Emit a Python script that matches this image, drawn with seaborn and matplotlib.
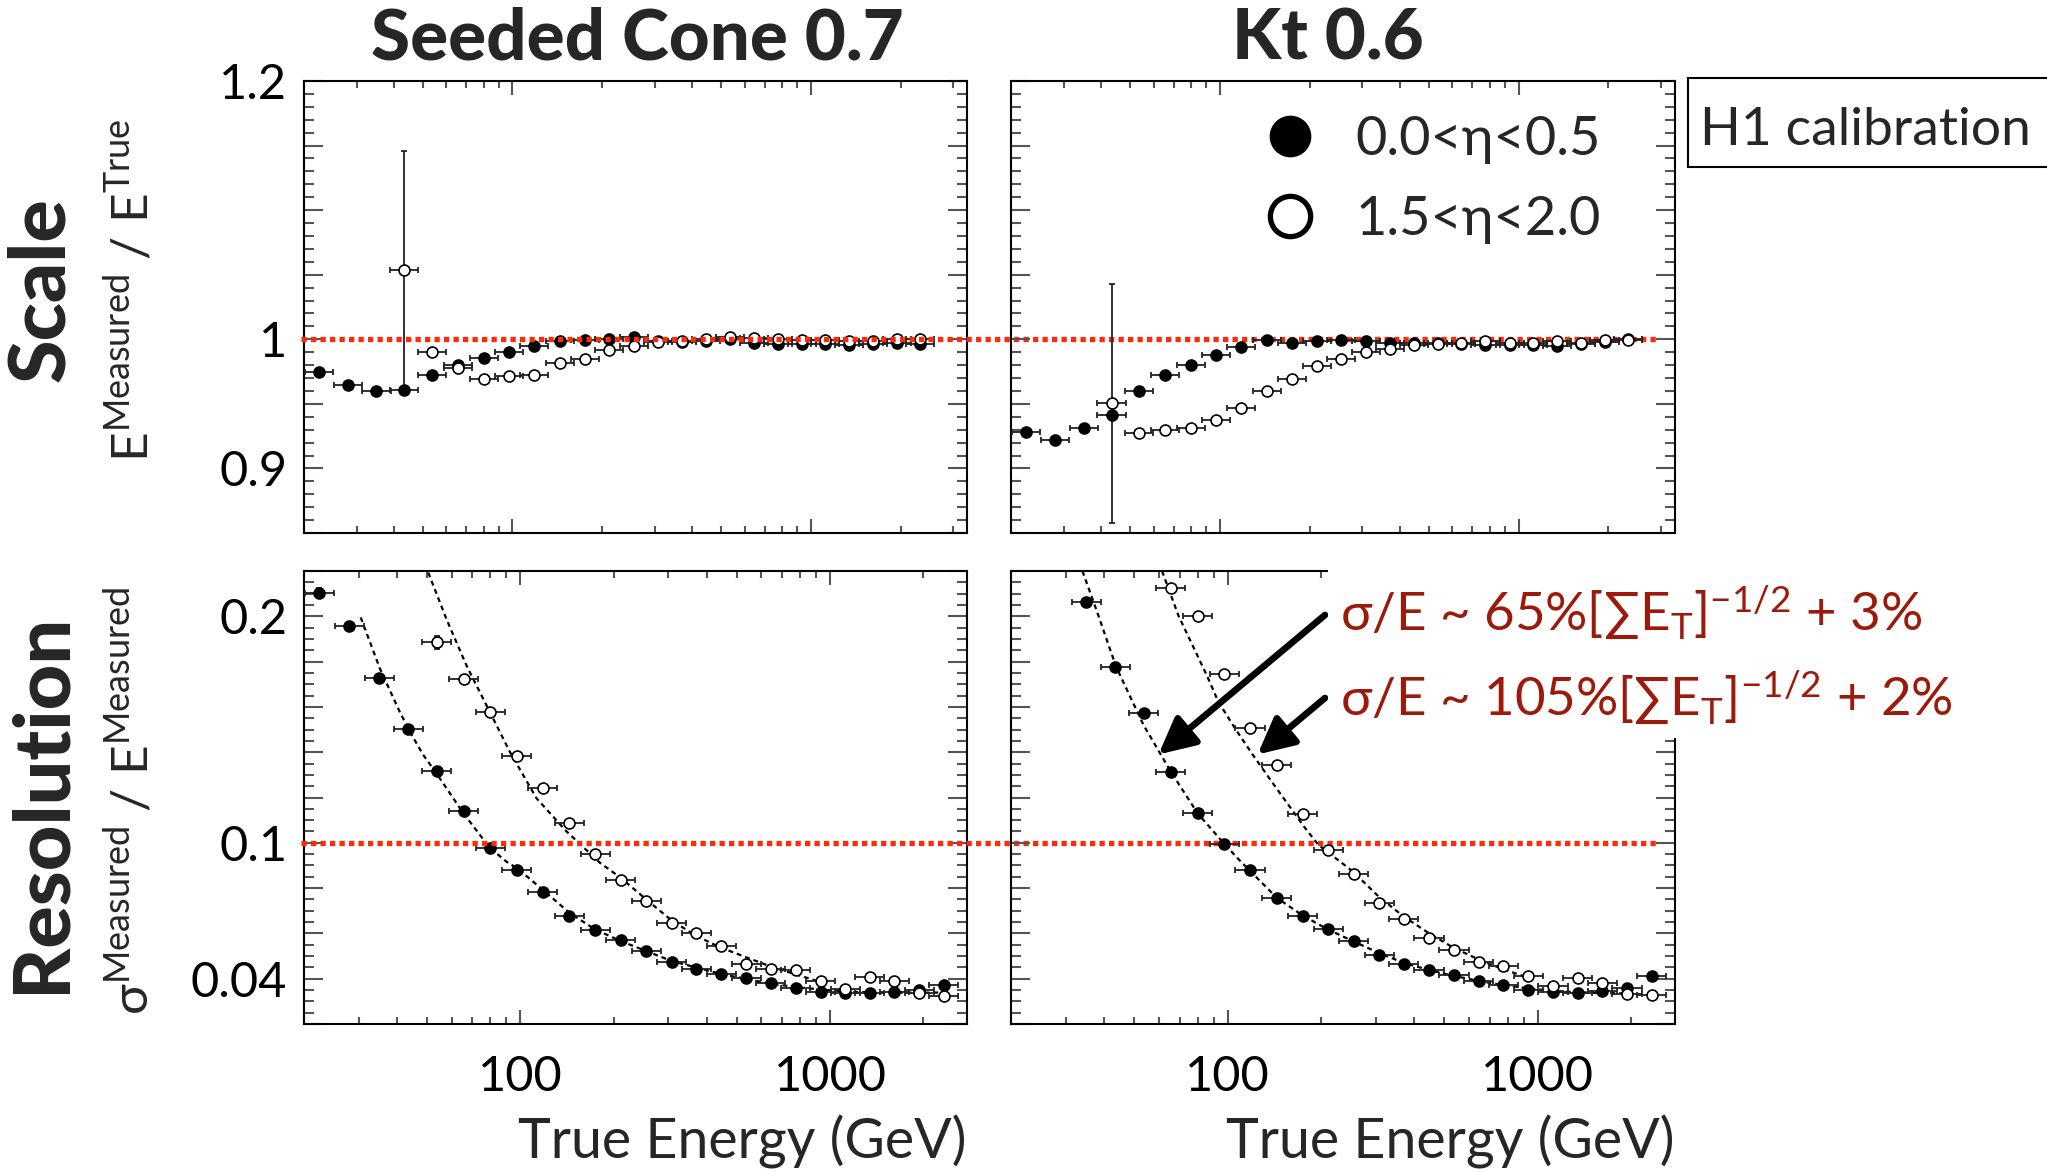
import numpy as np
import matplotlib
matplotlib.use("Agg")
import matplotlib.pyplot as plt
from matplotlib.lines import Line2D
from matplotlib.patches import Rectangle
from matplotlib.ticker import MultipleLocator, LogLocator, NullFormatter
import seaborn as sns

# energy bin centres (GeV), same binning in all four panels
e_bins = np.array([22.4, 28.0, 35.0, 43.4, 53.6, 65.5, 80.0, 97.4, 118, 144, 174.5, 211, 255,
                   308, 370, 446, 537, 644, 775, 933, 1120, 1345, 1615, 1940, 2330])

# Scale, Seeded Cone 0.7
cone_scale_c = [0.975, 0.9646, 0.960, 0.961, 0.972, 0.980, 0.9857, 0.990, 0.995, 0.999, 0.9995,
                1.0003, 1.0015, 0.999, 0.998, 0.9987, 1.0, 0.9974, 0.9967, 0.996, 0.9964, 0.9954,
                0.996, 0.997, 0.9964]
cone_scale_f = [1.054, 0.990, 0.9775, 0.9695, 0.9716, 0.972, 0.9816, 0.985, 0.9916, 0.9946,
                0.9977, 0.999, 1.0005, 1.0018, 1.0008, 1.0005, 0.9995, 0.9992, 0.9987, 0.9985,
                1.0005, 1.0005]
cone_scale_f_err = [0.092] + [0.0] * 21

# Scale, Kt 0.6
kt_scale_c = [0.9283, 0.9219, 0.9316, 0.9414, 0.9598, 0.9724, 0.9798, 0.9882, 0.9939, 0.9992,
              0.9972, 0.999, 0.9997, 0.9987, 0.9972, 0.9974, 0.9972, 0.9964, 0.9954, 0.9954,
              0.9954, 0.9951, 0.996, 0.9977, 1.0005]
kt_scale_f = [0.9503, 0.9276, 0.9299, 0.9316, 0.9378, 0.9468, 0.9598, 0.9695, 0.9793, 0.9846,
              0.9905, 0.9926, 0.9956, 0.9962, 0.997, 0.9987, 0.9974, 0.997, 0.9987, 0.997,
              0.9995, 0.9995]
kt_scale_f_err = [0.0925] + [0.0] * 21

# Resolution, Seeded Cone 0.7
cone_res_c = [0.2105, 0.1957, 0.1728, 0.1501, 0.1319, 0.1139, 0.0977, 0.0878, 0.0783, 0.0679,
              0.0613, 0.0572, 0.0522, 0.0474, 0.0445, 0.0421, 0.0402, 0.0379, 0.0358, 0.0342,
              0.0338, 0.0335, 0.0342, 0.0351, 0.0370]
cone_res_f = [0.1885, 0.1725, 0.1577, 0.1385, 0.1242, 0.1086, 0.0952, 0.0836, 0.0745, 0.0645,
              0.0600, 0.0543, 0.0467, 0.0445, 0.0439, 0.0392, 0.0355, 0.0407, 0.0389, 0.0336,
              0.0322]
cone_res_c_err = [0.002] + [0.0] * 24
cone_res_f_err = [0.003] + [0.0] * 20

# Resolution, Kt 0.6
kt_res_c = [0.2065, 0.1778, 0.1573, 0.1314, 0.1130, 0.0996, 0.0881, 0.0757, 0.0679, 0.0618,
            0.0565, 0.0506, 0.0467, 0.0437, 0.0417, 0.0389, 0.0372, 0.0348, 0.0342, 0.0339,
            0.0344, 0.0358, 0.0413]
kt_res_f = [0.2127, 0.2001, 0.1747, 0.1507, 0.1344, 0.1125, 0.0969, 0.0862, 0.0736, 0.0663,
            0.0578, 0.0525, 0.0474, 0.0454, 0.0411, 0.0369, 0.0404, 0.0382, 0.0332, 0.0328]

# fitted resolution curves
cone_fit_c_e = [30.5, 35.2, 40.8, 44.0, 48.6, 53.6, 65.4, 79.7, 91.3, 97.4, 118, 144, 174, 211,
                255, 308, 371, 447, 540, 657, 800, 975, 1188, 1448, 1753, 2350]
cone_fit_c = [0.1995, 0.1768, 0.1577, 0.1489, 0.1387, 0.1306, 0.1131, 0.0977, 0.0911, 0.0889,
              0.0793, 0.0691, 0.0618, 0.0566, 0.0522, 0.0478, 0.0449, 0.0420, 0.0398, 0.0376,
              0.0361, 0.0350, 0.0342, 0.0339, 0.0338, 0.0339]
cone_fit_f_e = [50.4, 57.8, 67.0, 79.7, 92.5, 112.8, 141, 180.6, 211, 255, 310, 371, 444, 540,
                657, 773, 941]
cone_fit_f = [0.2193, 0.1985, 0.1782, 0.1577, 0.1401, 0.1196, 0.1050, 0.0912, 0.0845, 0.0750,
              0.0654, 0.0588, 0.0537, 0.0493, 0.0449, 0.0420, 0.0383]
kt_fit_c_e = [34.0, 38.3, 43.6, 53.5, 65.6, 79.9, 96.9, 110, 144, 174, 210, 254, 306, 368, 443,
              534, 641, 772, 931, 1114, 1337, 1606, 1922]
kt_fit_c = [0.220, 0.2002, 0.1779, 0.152, 0.1313, 0.1131, 0.0999, 0.0918, 0.0757, 0.068,
            0.0618, 0.0565, 0.0515, 0.0471, 0.0439, 0.0413, 0.0391, 0.0372, 0.0357, 0.0347,
            0.034, 0.0337, 0.0335]
kt_fit_f_e = [61.4, 69.4, 85.7, 93.4, 105.7, 119.7, 138.8, 157, 177.7, 196, 253, 306, 368,
              443, 534, 642, 772, 929]
kt_fit_f = [0.220, 0.2002, 0.1738, 0.1621, 0.1504, 0.1394, 0.1269, 0.1167, 0.1065,
            0.0991, 0.0874, 0.0764, 0.0676, 0.0603, 0.0537, 0.0486, 0.0442, 0.0405]

titles = ["Seeded Cone 0.7", "Kt 0.6"]
legend_labels = ["0.0<η<0.5", "1.5<η<2.0"]
scale_ticks = [0.85, 0.9, 0.95, 1.0, 1.05, 1.1, 1.15, 1.2]
scale_ticklabels = ["", "0.9", "", "1", "", "", "", "1.2"]
res_ticks = [0.02, 0.04, 0.06, 0.08, 0.10, 0.12, 0.14, 0.16, 0.18, 0.20, 0.22]
res_ticklabels = ["", "0.04", "", "", "0.1", "", "", "", "", "0.2", ""]
e_ticks = [100, 1000]
e_ticklabels = ["100", "1000"]
fit_texts = ["σ/E ~ 65%[$\\sum$E$_\\mathregular{T}$]$^\\mathregular{-1/2}$ + 3%",
             "σ/E ~ 105%[$\\sum$E$_\\mathregular{T}$]$^\\mathregular{-1/2}$ + 2%"]

sns.set_theme(style="ticks")
plt.rcParams["font.family"] = ["Lato", "DejaVu Sans"]
plt.rcParams["mathtext.fontset"] = "custom"
plt.rcParams["mathtext.rm"] = "Lato"
plt.rcParams["mathtext.it"] = "Lato:italic"
plt.rcParams["mathtext.bf"] = "Lato:bold"

RED = "#ff2a0a"
DARKRED = "#9c1a0c"
half_bin = 0.047  # half bin width in decades

fig = plt.figure(figsize=(20.47, 11.72), dpi=100, facecolor="white")
W, H = 2047, 1172


def rect(x0, x1, y0, y1):
    return [x0 / W, 1 - y1 / H, (x1 - x0) / W, (y1 - y0) / H]


ax_tl = fig.add_axes(rect(304, 967, 81, 533))
ax_tr = fig.add_axes(rect(1011, 1675, 81, 533))
ax_bl = fig.add_axes(rect(304, 967, 571, 1024))
ax_br = fig.add_axes(rect(1011, 1675, 571, 1024))


def draw_points(ax, e, val, yerr, filled):
    e = np.asarray(e)
    xlo = e - e / 10 ** half_bin
    xhi = e * 10 ** half_bin - e
    ax.errorbar(e, val, xerr=[xlo, xhi], yerr=yerr, fmt="none", ecolor="#222222",
                elinewidth=1.3, capsize=2.5, capthick=1.3, zorder=3)
    sns.scatterplot(x=e, y=val, ax=ax, marker="o", s=62,
                    color="black" if filled else "white", edgecolor="black",
                    linewidth=1.2, zorder=4, legend=False)


def style_axis(ax, bottom_row, left_col):
    ax.set_facecolor("none")
    ax.set_xscale("log")
    if bottom_row:
        ax.set_xlim(20, 2770)
        ax.set_ylim(0.02, 0.22)
        ax.set_yticks(res_ticks, labels=res_ticklabels if left_col else [""] * len(res_ticks))
        ax.yaxis.set_minor_locator(MultipleLocator(0.005))
    else:
        ax.set_xlim(20, 3340)
        ax.set_ylim(0.85, 1.2)
        ax.set_yticks(scale_ticks, labels=scale_ticklabels if left_col else [""] * len(scale_ticks))
        ax.yaxis.set_minor_locator(MultipleLocator(0.01))
    ax.set_xticks(e_ticks, labels=e_ticklabels if bottom_row else ["", ""])
    ax.xaxis.set_minor_locator(LogLocator(base=10, subs=np.arange(2, 10)))
    ax.xaxis.set_minor_formatter(NullFormatter())
    ax.tick_params(which="both", direction="in", top=True, right=True, color="#555555",
                   width=1.5, labelsize=35, labelcolor="black")
    ax.tick_params(axis="x", which="major", length=10, pad=22)
    ax.tick_params(axis="x", which="minor", length=5)
    ax.tick_params(axis="y", which="major", length=13.5, pad=12)
    ax.tick_params(axis="y", which="minor", length=7)
    for s in ax.spines.values():
        s.set_linewidth(1.5)
        s.set_color("black")
    ax.set_xlabel("")
    ax.set_ylabel("")


# top row: scale
draw_points(ax_tl, e_bins, cone_scale_c, None, True)
draw_points(ax_tl, e_bins[3:], cone_scale_f, cone_scale_f_err, False)
draw_points(ax_tr, e_bins, kt_scale_c, None, True)
draw_points(ax_tr, e_bins[3:], kt_scale_f, kt_scale_f_err, False)

# bottom row: resolution with fits
for ax, fe, fv in [(ax_bl, cone_fit_c_e, cone_fit_c), (ax_bl, cone_fit_f_e, cone_fit_f),
                   (ax_br, kt_fit_c_e, kt_fit_c), (ax_br, kt_fit_f_e, kt_fit_f)]:
    sns.lineplot(x=fe, y=fv, ax=ax, color="black", linewidth=1.6,
                 linestyle=(0, (2.2, 1.8)), zorder=2)
draw_points(ax_bl, e_bins, cone_res_c, cone_res_c_err, True)
draw_points(ax_bl, e_bins[4:], cone_res_f, cone_res_f_err, False)
draw_points(ax_br, e_bins[2:], kt_res_c, None, True)
draw_points(ax_br, e_bins[5:], kt_res_f, None, False)

style_axis(ax_tl, False, True)
style_axis(ax_tr, False, False)
style_axis(ax_bl, True, True)
style_axis(ax_br, True, False)

# red reference lines running across both columns
for ax, yref in [(ax_tl, 1.0), (ax_bl, 0.1)]:
    ax.plot([-0.005, 2.042], [yref, yref], transform=ax.get_yaxis_transform(), color=RED,
            linewidth=3.8, linestyle=(0, (1, 0.8)), clip_on=False, zorder=5)

# legend
handles = [Line2D([], [], marker="o", ls="", ms=29, mfc="black", mec="black"),
           Line2D([], [], marker="o", ls="", ms=29, mfc="white", mec="black", mew=3.8)]
ax_tr.legend(handles, legend_labels, loc="upper left", bbox_to_anchor=(0.38, 0.925),
             frameon=False, fontsize=39, handlelength=1.0, handletextpad=0.7,
             labelspacing=0.58, borderpad=0, borderaxespad=0)

# titles and row labels
fig.text(637 / W, 1 - 39 / H, titles[0], ha="center", va="center", fontsize=51, fontweight="black")
fig.text(1328 / W, 1 - 39 / H, titles[1], ha="center", va="center", fontsize=51, fontweight="black")
fig.text(42 / W, 1 - 290 / H, "Scale", rotation=90, ha="center", va="center", fontsize=57,
         fontweight="black")
fig.text(42 / W, 1 - 803 / H, "Resolution", rotation=90, ha="center", va="center", fontsize=57,
         fontweight="black")
fig.text(131 / W, 1 - 290 / H, "E$^\\mathregular{Measured}$ / E$^\\mathregular{True}$",
         rotation=90, ha="center", va="center", fontsize=37)
fig.text(131 / W, 1 - 801 / H, "σ$^\\mathregular{Measured}$ / E$^\\mathregular{Measured}$",
         rotation=90, ha="center", va="center", fontsize=37)
fig.text(967 / W, 1 - 1142 / H, "True Energy (GeV)", ha="right", va="center", fontsize=40)
fig.text(1675 / W, 1 - 1142 / H, "True Energy (GeV)", ha="right", va="center", fontsize=40)

# H1 calibration box
fig.add_artist(Rectangle((1688 / W, 1 - 167 / H), 0.3, 89 / H, transform=fig.transFigure,
                         facecolor="white", edgecolor="black", linewidth=1.5, zorder=5))
fig.text(1700 / W, 1 - 145 / H, "H1 calibration", ha="left", va="baseline", fontsize=38.5, zorder=6)

# white block behind the fit formulas
fig.add_artist(Rectangle((1328 / W, 1 - 738 / H), 0.4, 178 / H, transform=fig.transFigure,
                         facecolor="white", edgecolor="none", zorder=5))
fig.text(1340 / W, 1 - 631 / H, fit_texts[0], ha="left", va="baseline", fontsize=38,
         color=DARKRED, zorder=6)
fig.text(1340 / W, 1 - 716 / H, fit_texts[1], ha="left", va="baseline", fontsize=38,
         color=DARKRED, zorder=6)

# arrows to the fitted curves
for tip, tail in [((59.8, 0.139), (1325 / W, 1 - 615 / H)), ((124.8, 0.139), (1325 / W, 1 - 698 / H))]:
    ax_br.annotate("", xy=tip, xycoords="data", xytext=tail, textcoords="figure fraction",
                   arrowprops=dict(arrowstyle="-|>,head_length=1.0,head_width=0.5",
                                   mutation_scale=22, lw=4.8, color="black",
                                   shrinkA=0, shrinkB=0),
                   annotation_clip=False, zorder=7)

fig.savefig("out.png", dpi=100)
